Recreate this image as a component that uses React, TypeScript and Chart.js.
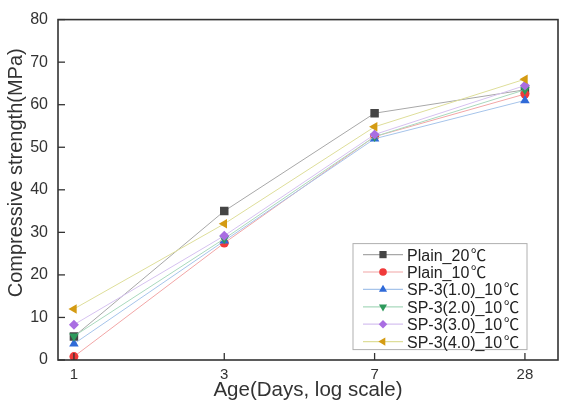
import React, { useEffect, useRef } from "react";
import { Chart, registerables } from "chart.js";
import { drawPoint } from "chart.js/helpers";

Chart.register(...registerables);

// Curing ages (days) shown as equally spaced categories
const ages = ["1", "3", "7", "28"];

// Series names; the degree-Celsius sign is appended when drawn
const seriesNames = [
  "Plain_20",
  "Plain_10",
  "SP-3(1.0)_10",
  "SP-3(2.0)_10",
  "SP-3(3.0)_10",
  "SP-3(4.0)_10",
];
const CELSIUS = "\u2103";

// Compressive strength (MPa) per age
const plain20 = [5.5, 35.0, 58.0, 63.5];
const plain10 = [0.8, 27.5, 52.5, 62.5];
const sp3_10 = [3.8, 28.0, 52.0, 61.0];
const sp3_20 = [5.6, 28.5, 52.5, 63.5];
const sp3_30 = [8.3, 29.2, 53.0, 64.5];
const sp3_40 = [12.0, 32.0, 54.8, 66.0];

const yTicks = [0, 10, 20, 30, 40, 50, 60, 70, 80];

const seriesValues = [plain20, plain10, sp3_10, sp3_20, sp3_30, sp3_40];
const markerColors = ["#454545", "#f03a3a", "#2f6ad8", "#2e9a5c", "#a96de2", "#d49b12"];
const lineColors = ["#a8a8a8", "#f2a6a6", "#a6c4ea", "#a9d9bd", "#d6c2f0", "#dede9a"];
const pointStyles = ["rect", "circle", "triangle", "triangle", "rectRot", "triangle"];
const pointRotations = [0, 0, 0, 180, 0, -90];
const pointRadii = [6, 4.5, 5.5, 5.5, 5, 5.5];

const FONT = "'Liberation Sans', Arial, Helvetica, sans-serif";
const CJK_FONT = "'Noto Sans CJK KR', 'Noto Sans CJK SC', sans-serif";
const AXIS_COLOR = "#333333";

// Frame around the plot area, inward-facing tick marks and the y-axis title
const framePlugin = {
  id: "frame",
  afterDraw(chart: any) {
    const { ctx, chartArea } = chart;
    const { left, right, top, bottom } = chartArea;
    ctx.save();
    ctx.strokeStyle = AXIS_COLOR;
    ctx.lineWidth = 1.6;
    ctx.strokeRect(left, top, right - left, bottom - top);
    ctx.lineWidth = 1.3;
    const ys = chart.scales.y;
    yTicks.forEach((v) => {
      const py = ys.getPixelForValue(v);
      ctx.beginPath();
      ctx.moveTo(left, py);
      ctx.lineTo(left + 7, py);
      ctx.stroke();
    });
    const xs = chart.scales.x;
    ages.forEach((_, i) => {
      const px = xs.getPixelForValue(i);
      ctx.beginPath();
      ctx.moveTo(px, bottom);
      ctx.lineTo(px, bottom - 7);
      ctx.stroke();
    });

    // y-axis title, rotated
    ctx.translate(16, ys.getPixelForValue(44));
    ctx.rotate(-Math.PI / 2);
    ctx.fillStyle = AXIS_COLOR;
    ctx.font = `20px ${FONT}`;
    ctx.textAlign = "center";
    ctx.textBaseline = "middle";
    ctx.fillText("Compressive strength(MPa)", 0, 0);
    ctx.restore();
  },
};

// Boxed legend inside the lower-right part of the plot
const legendPlugin = {
  id: "boxLegend",
  afterDraw(chart: any) {
    const { ctx, chartArea } = chart;
    const boxRight = chartArea.right - 31;
    const boxLeft = boxRight - 174;
    const boxTop = chartArea.top + 224;
    const rowH = 17.4;
    const boxH = 106;
    ctx.save();
    ctx.fillStyle = "#ffffff";
    ctx.fillRect(boxLeft, boxTop, boxRight - boxLeft, boxH);
    ctx.strokeStyle = "#b0b0b0";
    ctx.lineWidth = 1;
    ctx.strokeRect(boxLeft, boxTop, boxRight - boxLeft, boxH);
    ctx.textBaseline = "alphabetic";
    ctx.textAlign = "left";
    seriesNames.forEach((name, i) => {
      const cy = boxTop + 11 + i * rowH;
      ctx.strokeStyle = lineColors[i];
      ctx.lineWidth = 1.2;
      ctx.beginPath();
      ctx.moveTo(boxLeft + 10, cy);
      ctx.lineTo(boxLeft + 50, cy);
      ctx.stroke();
      ctx.fillStyle = markerColors[i];
      ctx.strokeStyle = markerColors[i];
      drawPoint(
        ctx,
        {
          pointStyle: pointStyles[i],
          radius: pointRadii[i] * 0.85,
          rotation: pointRotations[i],
          borderWidth: 0,
        } as any,
        boxLeft + 30,
        cy
      );
      const baseline = cy + 6;
      ctx.fillStyle = "#222222";
      ctx.font = `16px ${FONT}`;
      ctx.fillText(name, boxLeft + 54, baseline);
      const w = ctx.measureText(name).width;
      ctx.font = `15.5px ${CJK_FONT}`;
      ctx.fillText(CELSIUS, boxLeft + 54 + w + 1.5, baseline);
    });
    ctx.restore();
  },
};

export default function App() {
  const canvasRef = useRef<HTMLCanvasElement | null>(null);

  useEffect(() => {
    document.body.style.margin = "0";
    const canvas = canvasRef.current;
    if (!canvas) return;

    const datasets = seriesValues.map((vals, i) => ({
      label: seriesNames[i] + CELSIUS,
      data: vals.map((v, k) => ({ x: k, y: v })),
      borderColor: lineColors[i],
      borderWidth: 1,
      backgroundColor: markerColors[i],
      pointBackgroundColor: markerColors[i],
      pointBorderColor: markerColors[i],
      pointBorderWidth: 0,
      pointStyle: pointStyles[i],
      pointRotation: pointRotations[i],
      pointRadius: pointRadii[i],
      tension: 0,
      order: seriesNames.length - i,
    }));

    const chart = new Chart(canvas, {
      type: "line",
      data: { datasets },
      options: {
        animation: false,
        responsive: false,
        layout: { padding: { top: 5, right: 11, left: 0, bottom: 0 } },
        plugins: {
          legend: { display: false },
          tooltip: { enabled: false },
        },
        scales: {
          x: {
            type: "linear",
            min: -0.106,
            max: 3.22,
            afterBuildTicks(scale: any) {
              scale.ticks = ages.map((_, i) => ({ value: i }));
            },
            afterFit(scale: any) {
              scale.height = 46;
            },
            ticks: {
              callback: (v: any) => ages[Math.round(Number(v))] ?? "",
              color: AXIS_COLOR,
              font: { family: FONT, size: 15 },
              padding: 6,
              maxRotation: 0,
            },
            grid: { display: false, drawTicks: false },
            border: { display: false },
            title: {
              display: true,
              text: "Age(Days, log scale)",
              color: AXIS_COLOR,
              font: { family: FONT, size: 20.5 },
              padding: { top: 0, bottom: 3 },
            },
          },
          y: {
            min: 0,
            max: 80,
            afterBuildTicks(scale: any) {
              scale.ticks = yTicks.map((v) => ({ value: v }));
            },
            afterFit(scale: any) {
              scale.width = 58;
            },
            ticks: {
              color: AXIS_COLOR,
              font: { family: FONT, size: 16 },
              padding: 10,
            },
            grid: { display: false, drawTicks: false },
            border: { display: false },
            title: { display: false },
          },
        },
      },
      plugins: [framePlugin, legendPlugin],
    });

    return () => chart.destroy();
  }, []);

  return (
    <div style={{ width: 569, height: 406, background: "#ffffff" }}>
      <canvas ref={canvasRef} width={569} height={406} />
    </div>
  );
}
